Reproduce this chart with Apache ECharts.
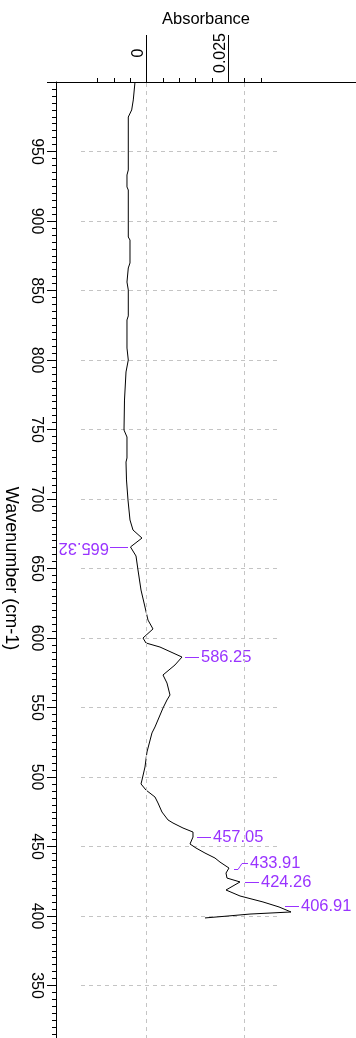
<!DOCTYPE html>
<html><head><meta charset="utf-8">
<script src="https://cdn.jsdelivr.net/npm/echarts@6/dist/echarts.min.js"></script>
<style>html,body{margin:0;padding:0;background:#fff}#c{width:356px;height:1038px}</style>
</head><body><div id="c"></div>
<script>
// Spectrum (wavenumber in cm-1, absorbance)
const wavenumber = [1000, 987.1, 979.9, 974.8, 936.7, 933.1, 924.5, 922.3, 888.5, 886.3, 869.8, 866.2, 856.1, 850.4, 831.7, 828.8, 808.6, 800.0, 791.4, 771.2, 749.6, 744.6, 729.5, 726.6, 713.7, 699.3, 684.9, 677.7, 671.9, 665.5, 659.0, 648.9, 634.5, 622.3, 612.9, 606.5, 600.0, 596.4, 593.5, 586.3, 580.6, 573.4, 567.6, 559.0, 555.4, 549.6, 536.0, 531.7, 518.0, 507.2, 497.8, 495.0, 490.6, 485.6, 481.3, 474.8, 469.1, 466.9, 463.3, 460.4, 456.8, 451.8, 448.9, 445.3, 441.7, 438.8, 434.5, 430.9, 427.3, 424.5, 418.7, 414.4, 410.1, 406.5, 402.9, 401.4, 400.0, 398.6];
const absorbance = [-0.00352, -0.00404, -0.00453, -0.00557, -0.00557, -0.00597, -0.00597, -0.00557, -0.00557, -0.00505, -0.00505, -0.00557, -0.00597, -0.00557, -0.00557, -0.00597, -0.00597, -0.00557, -0.00627, -0.00673, -0.00688, -0.00597, -0.00597, -0.00627, -0.00612, -0.00566, -0.00505, -0.00413, -0.00138, -0.0049, -0.00321, -0.0026, -0.00168, -0.00046, 0.00046, 0.00199, -0.00107, -0.00015, 0.00413, 0.01086, 0.00872, 0.00505, 0.00627, 0.00719, 0.00627, 0.00505, 0.0026, 0.00168, 0.00015, -0.00046, -0.00138, -0.00168, -0.00015, 0.0026, 0.00352, 0.00474, 0.00658, 0.00811, 0.01117, 0.01423, 0.01423, 0.01331, 0.01515, 0.0179, 0.02096, 0.02249, 0.02524, 0.02433, 0.02463, 0.02861, 0.02433, 0.02861, 0.03565, 0.04055, 0.04422, 0.03167, 0.02494, 0.0179];

// Peak annotations
const peakWavenumbers = [665.32, 586.25, 457.05, 433.91, 424.26, 406.91];
const peakAbsorbance = [-0.0047, 0.0109, 0.0145, 0.0260, 0.0292, 0.0415];
const peakLabels = ['665.32', '586.25', '457.05', '433.91', '424.26', '406.91'];
const peakSide = ['left', 'right', 'right', 'bend', 'right', 'right'];

// Axis ticks
const xMajorTicks = [0, 0.025];
const xTickLabels = ['0', '0.025'];
const xMinorTicks = [-0.015, -0.01, -0.005, 0.005, 0.01, 0.015, 0.02, 0.03, 0.035];
const yMin = 300, yMax = 1000, yStep = 50;
const xMin = -0.02769, xMax = 0.06411;

const FONT = "'Liberation Sans', Arial, sans-serif";
const PURPLE = '#9933ff';
const GRID = '#c4c4c4';

const chart = echarts.init(document.getElementById('c'), null, {renderer: 'canvas'});

const option = {
  animation: false,
  backgroundColor: '#fff',
  grid: [
    {left: 56, right: 0, top: 82, bottom: -17, outerBoundsMode: 'none', containLabel: false},
    {left: 81, right: 76, top: 82, bottom: -17, outerBoundsMode: 'none', containLabel: false}
  ],
  xAxis: [
    {
      gridIndex: 0, type: 'value', position: 'top', min: xMin, max: xMax,
      name: 'Absorbance', nameLocation: 'middle', nameGap: 63,
      nameTextStyle: {fontFamily: FONT, fontSize: 16.5, color: '#000', verticalAlign: 'middle', align: 'center'},
      axisLine: {show: true, onZero: false, lineStyle: {color: '#000', width: 1}},
      axisTick: {show: true, customValues: xMinorTicks, length: 4, lineStyle: {color: '#000'}},
      axisLabel: {show: false},
      splitLine: {show: false}
    },
    {
      gridIndex: 0, type: 'value', position: 'top', min: xMin, max: xMax,
      axisLine: {show: false, onZero: false},
      axisTick: {show: true, customValues: xMajorTicks, length: 47, lineStyle: {color: '#000'}},
      axisLabel: {
        show: true, customValues: xMajorTicks, rotate: -90, margin: 29,
        align: 'center', verticalAlign: 'bottom',
        fontFamily: FONT, fontSize: 16, color: '#000',
        formatter: function (v) { const i = xMajorTicks.indexOf(v); return i >= 0 ? xTickLabels[i] : ''; }
      },
      splitLine: {show: false}
    },
    {gridIndex: 1, type: 'value', min: xMin, max: xMax, show: false}
  ],
  yAxis: [
    {
      gridIndex: 0, type: 'value', min: yMin, max: yMax, interval: yStep,
      name: 'Wavenumber (cm-1)', nameLocation: 'middle', nameRotate: -90, nameGap: 42,
      nameTextStyle: {fontFamily: FONT, fontSize: 18, color: '#000', align: 'center', verticalAlign: 'middle'},
      axisLine: {show: true, onZero: false, lineStyle: {color: '#000', width: 1}},
      axisTick: {show: true, length: 9, lineStyle: {color: '#000'}},
      minorTick: {show: true, splitNumber: 10, length: 4, lineStyle: {color: '#000'}},
      axisLabel: {
        rotate: -90, margin: 20, align: 'center', verticalAlign: 'middle',
        showMaxLabel: false, showMinLabel: false,
        fontFamily: FONT, fontSize: 16, color: '#000'
      },
      splitLine: {show: false}
    },
    {
      gridIndex: 1, type: 'value', min: yMin, max: yMax, interval: yStep,
      axisLine: {show: false}, axisTick: {show: false}, axisLabel: {show: false},
      splitLine: {show: true, lineStyle: {color: GRID, type: [4, 4], width: 1}}
    }
  ],
  series: [
    {
      type: 'line', xAxisIndex: 0, yAxisIndex: 0, data: [], z: 1, silent: true,
      markLine: {
        silent: true, symbol: ['none', 'none'], label: {show: false}, animation: false,
        lineStyle: {color: GRID, type: [4, 4], width: 1},
        data: xMajorTicks.map(v => ({xAxis: v}))
      }
    },
    {
      type: 'line', xAxisIndex: 0, yAxisIndex: 0, z: 3,
      data: wavenumber.map((w, i) => [absorbance[i], w]),
      symbol: 'none', showSymbol: false,
      lineStyle: {color: '#000', width: 1}
    },
    {
      type: 'custom', xAxisIndex: 0, yAxisIndex: 0, z: 4, silent: true,
      data: peakWavenumbers.map((w, i) => [peakAbsorbance[i], w]),
      renderItem: function (params, api) {
        const i = params.dataIndex;
        const p = api.coord([api.value(0), api.value(1)]);
        const px = Math.round(p[0]);
        const py = Math.round(p[1]) + 0.5;
        const ts = {text: peakLabels[i], fill: PURPLE, fontFamily: FONT, fontSize: 16.5, align: 'left', verticalAlign: 'middle'};
        const ls = {stroke: PURPLE, lineWidth: 1, fill: null};
        if (peakSide[i] === 'left') {
          return {type: 'group', children: [
            {type: 'line', shape: {x1: px - 3, y1: py, x2: px - 21, y2: py}, style: ls},
            {type: 'text', x: px - 22, y: py, rotation: Math.PI, style: ts}
          ]};
        }
        if (peakSide[i] === 'bend') {
          return {type: 'group', children: [
            {type: 'polyline', shape: {points: [[px + 3, py], [px + 7, py], [px + 9, py - 3], [px + 11, py - 6], [px + 17, py - 6]]}, style: ls},
            {type: 'text', x: px + 19, y: py - 6, style: ts}
          ]};
        }
        return {type: 'group', children: [
          {type: 'line', shape: {x1: px + 3, y1: py, x2: px + 17, y2: py}, style: ls},
          {type: 'text', x: px + 19, y: py, style: ts}
        ]};
      }
    }
  ]
};
chart.setOption(option);
</script>
</body></html>
